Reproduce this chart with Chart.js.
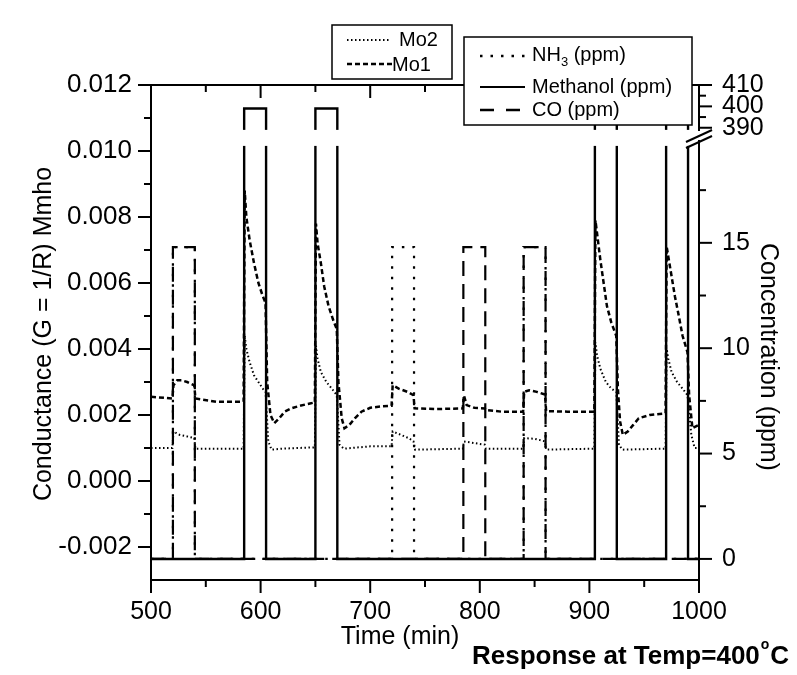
<!DOCTYPE html>
<html>
<head>
<meta charset="utf-8">
<script src="https://cdn.jsdelivr.net/npm/chart.js@4.4.1/dist/chart.umd.min.js"></script>
<style>
  html, body { margin: 0; padding: 0; background: #fff; }
  canvas { display: block; }
</style>
</head>
<body>
<canvas id="chart" width="797" height="675"></canvas>
<script>
// ---- data ----
const xTicks = [500, 550, 600, 650, 700, 750, 800, 850, 900, 950, 1000];
const leftTicks = [-0.002, -0.001, 0, 0.001, 0.002, 0.003, 0.004, 0.005, 0.006, 0.007, 0.008, 0.009, 0.010, 0.011, 0.012];
const rightTicks = [0, 2.5, 5, 7.5, 10, 12.5, 15, 17.5, 390, 395, 400, 405, 410];
const rightLabelled = [0, 5, 10, 15, 390, 400, 410];

// gas pulses: start / end (min) and plateau (ppm)
const methanolOn = [585, 650, 905, 970];
const methanolOff = [605, 670, 925, 990];
const methanolLevel = 399;
const nh3On = [520, 720, 840];
const nh3Off = [540, 740, 860];
const nh3Level = 14.8;
const coOn = [520, 785, 840];
const coOff = [540, 805, 860];
const coLevel = 14.8;

// conductance, Mo1
const mo1Time = [500, 519.5, 520.5, 524, 528, 533, 539.5, 540.5, 560, 584.5,
  585.5, 587, 590, 594, 598, 602, 604.5, 606, 609, 612.5, 617, 622, 628, 636, 645, 649.5,
  650.5, 652, 655, 658, 662, 666, 669.5, 671, 674, 676.5, 681, 686, 692, 700, 710, 719.5,
  720.5, 726, 734, 739.5, 740.5, 760, 784.5, 785.5, 788, 795, 804.5, 805.5, 820, 839.5,
  840.5, 845, 852, 859.5, 860.5, 880, 904.5,
  905.5, 907, 910, 913, 916, 920, 924.5, 926, 928, 930.5, 935, 940, 945, 955, 969.5,
  970.5, 972, 975, 978, 981, 985, 989.5, 991, 994, 1000];
const mo1G = [0.00255, 0.0025, 0.0029, 0.00305, 0.00305, 0.0030, 0.0029, 0.0025, 0.0024, 0.0024,
  0.0088, 0.0080, 0.0073, 0.0066, 0.0060, 0.0056, 0.0054, 0.0030, 0.0020, 0.00175, 0.0019, 0.0021, 0.0022, 0.00228, 0.00235, 0.00238,
  0.0078, 0.0072, 0.0066, 0.0059, 0.0053, 0.0049, 0.0046, 0.0030, 0.0019, 0.0016, 0.0017, 0.0019, 0.0021, 0.00222, 0.00226, 0.00228,
  0.0029, 0.0028, 0.0027, 0.0026, 0.0022, 0.00218, 0.0022, 0.0026, 0.0023, 0.00222, 0.0022, 0.00215, 0.0021, 0.0021,
  0.0027, 0.00275, 0.0027, 0.00262, 0.00212, 0.0021, 0.0021,
  0.0079, 0.0075, 0.0067, 0.0060, 0.0053, 0.0048, 0.0044, 0.0028, 0.0018, 0.0014, 0.0015, 0.0017, 0.0019, 0.0020, 0.00205,
  0.0071, 0.0068, 0.0062, 0.0056, 0.0051, 0.0044, 0.0039, 0.0026, 0.0016, 0.0017];

// conductance, Mo2
const mo2Time = [500, 519.5, 520.5, 526, 533, 539.5, 540.5, 584.5,
  585.5, 587, 590, 594, 598, 602, 604.5, 607, 610, 620, 649.5,
  650.5, 652, 655, 660, 665, 669.5, 672, 676, 700, 719.5,
  720.5, 728, 735, 739.5, 741, 784.5, 785.5, 795, 804.5, 805.5, 839.5,
  840.5, 850, 859.5, 860.5, 904.5,
  905.5, 907, 910, 915, 920, 924.5, 927, 930, 969.5,
  970.5, 972, 975, 980, 985, 989.5, 993, 996, 1000];
const mo2G = [0.0010, 0.0010, 0.0015, 0.0014, 0.00135, 0.0013, 0.00098, 0.00098,
  0.0044, 0.0040, 0.0036, 0.0032, 0.0030, 0.0028, 0.0027, 0.0012, 0.00095, 0.00098, 0.00102,
  0.0041, 0.0037, 0.0033, 0.0030, 0.0028, 0.0026, 0.0011, 0.00098, 0.00105, 0.00105,
  0.0015, 0.0014, 0.0013, 0.0012, 0.00095, 0.00098, 0.0012, 0.00115, 0.0011, 0.00098, 0.00098,
  0.0013, 0.00128, 0.0012, 0.00095, 0.00098,
  0.0042, 0.0038, 0.0034, 0.0030, 0.0028, 0.0027, 0.0011, 0.00095, 0.00098,
  0.0040, 0.0037, 0.0033, 0.0030, 0.0028, 0.0026, 0.0014, 0.0010, 0.0010];

const FONT = '"Liberation Sans", Arial, Helvetica, sans-serif';

// square pulse table for the line chart
function pulses(on, off, level) {
  const pts = [{ x: 500, y: 0 }];
  on.forEach((s, i) => {
    pts.push({ x: s, y: 0 }, { x: s, y: level }, { x: off[i], y: level }, { x: off[i], y: 0 });
  });
  pts.push({ x: 1000, y: 0 });
  return pts;
}
function trace(t, v) { return t.map((x, i) => ({ x: x, y: v[i] })); }

// concentration axis with a break between ~20 and ~388 ppm
// (fractions are measured from the bottom of the axis)
const lowSeg = { from: -1, to: 20, f0: 0, f1: 0.894 };
const highSeg = { from: 388, to: 410, f0: 0.905, f1: 1 };

class BrokenScale extends Chart.LinearScale {
  _frac(v) {
    if (v <= lowSeg.to) return lowSeg.f0 + (v - lowSeg.from) / (lowSeg.to - lowSeg.from) * (lowSeg.f1 - lowSeg.f0);
    if (v >= highSeg.from) return highSeg.f0 + (v - highSeg.from) / (highSeg.to - highSeg.from) * (highSeg.f1 - highSeg.f0);
    return lowSeg.f1 + (v - lowSeg.to) / (highSeg.from - lowSeg.to) * (highSeg.f0 - lowSeg.f1);
  }
  getPixelForValue(v) {
    return this.bottom - this._frac(v) * (this.bottom - this.top);
  }
  getValueForPixel(p) {
    const f = (this.bottom - p) / (this.bottom - this.top);
    if (f <= lowSeg.f1) return lowSeg.from + (f - lowSeg.f0) / (lowSeg.f1 - lowSeg.f0) * (lowSeg.to - lowSeg.from);
    return highSeg.from + (f - highSeg.f0) / (highSeg.f1 - highSeg.f0) * (highSeg.to - highSeg.from);
  }
}
BrokenScale.id = 'broken';
BrokenScale.defaults = Chart.LinearScale.defaults;
Chart.register(BrokenScale);

const dash = {
  mo2: [1.5, 2.5],
  mo1: [5, 3],
  nh3: [2.5, 8],
  co: [15, 8]
};

const decor = {
  id: 'decor',
  afterDatasetsDraw(chart) {
    // white gap where the curves cross the axis break
    const { ctx, chartArea: a } = chart;
    const r = chart.scales.y2;
    const g0 = r.getPixelForValue(19.6), g1 = r.getPixelForValue(389);
    ctx.save();
    ctx.fillStyle = '#fff';
    ctx.fillRect(a.left + 2, g1, a.right - a.left - 4, g0 - g1);
    ctx.restore();
  },
  afterDraw(chart) {
    const { ctx, chartArea: a } = chart;
    const sx = chart.scales.x, sy = chart.scales.y, sr = chart.scales.y2;
    const line = (x1, y1, x2, y2) => { ctx.beginPath(); ctx.moveTo(x1, y1); ctx.lineTo(x2, y2); ctx.stroke(); };
    ctx.save();
    ctx.strokeStyle = '#000';
    ctx.lineWidth = 2;

    // top frame + tick marks
    line(a.left - 13, a.top, a.right + 1, a.top);
    xTicks.forEach(v => {
      const p = sx.getPixelForValue(v), len = v % 100 === 0 ? 13 : 7;
      line(p, a.bottom, p, a.bottom + len);
      line(p, a.top, p, a.top + len);
    });
    leftTicks.forEach(v => {
      const p = sy.getPixelForValue(v), len = Math.round(v * 1000) % 2 === 0 ? 13 : 7;
      line(a.left - len, p, a.left, p);
    });
    rightTicks.forEach(v => {
      const p = sr.getPixelForValue(v), len = rightLabelled.includes(v) ? 13 : 7;
      line(a.right, p, a.right + len, p);
    });

    // break symbol on the right axis
    ctx.fillStyle = '#fff';
    ctx.fillRect(a.right - 2, 131, 4, 9);
    line(a.right - 13, 142, a.right + 13, 130);
    line(a.right - 13, 148, a.right + 13, 136);

    // legend boxes
    ctx.lineWidth = 1.5;
    ctx.fillStyle = '#fff';
    ctx.fillRect(332, 25, 120, 54);
    ctx.strokeRect(332, 25, 120, 54);
    ctx.fillRect(464, 37, 228, 88);
    ctx.strokeRect(464, 37, 228, 88);

    ctx.lineWidth = 2;
    ctx.setLineDash(dash.mo2); line(347, 40, 390, 40);
    ctx.setLineDash(dash.mo1); ctx.lineWidth = 2.5; line(347, 64, 392, 64);
    ctx.setLineDash(dash.nh3); line(480, 56, 525, 56);
    ctx.setLineDash([]); ctx.lineWidth = 2; line(480, 87, 525, 87);
    ctx.setLineDash([14, 12]); ctx.lineWidth = 2.5; line(480, 110, 525, 110);
    ctx.setLineDash([]);

    ctx.fillStyle = '#000';
    ctx.textBaseline = 'middle';
    ctx.textAlign = 'left';
    ctx.font = '20px ' + FONT;
    ctx.fillText('Mo2', 399, 40);
    ctx.fillText('Mo1', 392, 65);
    ctx.fillText('Methanol (ppm)', 532, 87);
    ctx.fillText('CO (ppm)', 532, 110);
    ctx.fillText('NH', 532, 55);
    let w = ctx.measureText('NH').width;
    ctx.font = '13px ' + FONT;
    ctx.fillText('3', 532 + w, 62);
    const w3 = ctx.measureText('3').width;
    ctx.font = '20px ' + FONT;
    ctx.fillText(' (ppm)', 532 + w + w3, 55);

    // axis titles
    ctx.font = '25px ' + FONT;
    ctx.textAlign = 'center';
    ctx.fillText('Time (min)', 400, 637);
    ctx.save();
    ctx.translate(44, 334);
    ctx.rotate(-Math.PI / 2);
    ctx.fillText('Conductance (G = 1/R) Mmho', 0, 0);
    ctx.restore();
    ctx.save();
    ctx.translate(768, 357);
    ctx.rotate(Math.PI / 2);
    ctx.fillText('Concentration (ppm)', 0, 0);
    ctx.restore();

    // caption
    ctx.textAlign = 'left';
    ctx.textBaseline = 'alphabetic';
    ctx.font = 'bold 26px ' + FONT;
    const cap = 'Response at Temp=400';
    let cx = 472;
    ctx.fillText(cap, cx, 664);
    cx += ctx.measureText(cap).width;
    ctx.font = 'bold 14px ' + FONT;
    ctx.fillText('o', cx + 1, 649);
    cx += ctx.measureText('o').width + 2;
    ctx.font = 'bold 26px ' + FONT;
    ctx.fillText('C', cx, 664);
    ctx.restore();
  }
};

const tickFont = { family: FONT, size: 25 };

new Chart(document.getElementById('chart'), {
  type: 'line',
  data: {
    datasets: [
      { label: 'Mo2', data: trace(mo2Time, mo2G), yAxisID: 'y', borderColor: '#000', borderWidth: 2, borderDash: dash.mo2 },
      { label: 'Mo1', data: trace(mo1Time, mo1G), yAxisID: 'y', borderColor: '#000', borderWidth: 2.5, borderDash: dash.mo1 },
      { label: 'NH3 (ppm)', data: pulses(nh3On, nh3Off, nh3Level), yAxisID: 'y2', borderColor: '#000', borderWidth: 2.2, borderDash: dash.nh3, order: 2 },
      { label: 'Methanol (ppm)', data: pulses(methanolOn, methanolOff, methanolLevel), yAxisID: 'y2', borderColor: '#000', borderWidth: 2.4, order: -1 },
      { label: 'CO (ppm)', data: pulses(coOn, coOff, coLevel), yAxisID: 'y2', borderColor: '#000', borderWidth: 2.2, borderDash: dash.co, order: 2 }
    ]
  },
  options: {
    responsive: false,
    animation: false,
    events: [],
    layout: { padding: { top: 85, left: 0, right: 0, bottom: 0 } },
    elements: { point: { radius: 0 }, line: { tension: 0, fill: false } },
    plugins: { legend: { display: false }, tooltip: { enabled: false } },
    scales: {
      x: {
        type: 'linear', min: 500, max: 1000,
        afterBuildTicks: s => { s.ticks = xTicks.map(v => ({ value: v })); },
        afterFit: s => { s.height = 95; },
        grid: { display: false, drawTicks: false },
        border: { display: true, color: '#000', width: 2 },
        ticks: { autoSkip: false, maxRotation: 0, padding: 17, color: '#000', font: tickFont,
          callback: v => (v % 100 === 0 ? String(v) : '') }
      },
      y: {
        type: 'linear', position: 'left', min: -0.003, max: 0.012,
        afterBuildTicks: s => { s.ticks = leftTicks.map(v => ({ value: v })); },
        afterFit: s => { s.width = 151; },
        grid: { display: false, drawTicks: false },
        border: { display: true, color: '#000', width: 2 },
        ticks: { autoSkip: false, padding: 19, color: '#000', font: { family: FONT, size: 26 },
          callback: v => { const k = Math.round(v * 1000); return k % 2 === 0 ? (k / 1000).toFixed(3) : ''; } }
      },
      y2: {
        type: 'broken', position: 'right', min: -1, max: 410,
        afterBuildTicks: s => { s.ticks = rightTicks.map(v => ({ value: v })); },
        afterFit: s => { s.width = 98; },
        grid: { display: false, drawTicks: false },
        border: { display: true, color: '#000', width: 2 },
        ticks: { autoSkip: false, padding: 23, color: '#000', font: tickFont,
          callback: v => (rightLabelled.includes(v) ? String(v) : '') }
      }
    }
  },
  plugins: [decor]
});
</script>
</body>
</html>
